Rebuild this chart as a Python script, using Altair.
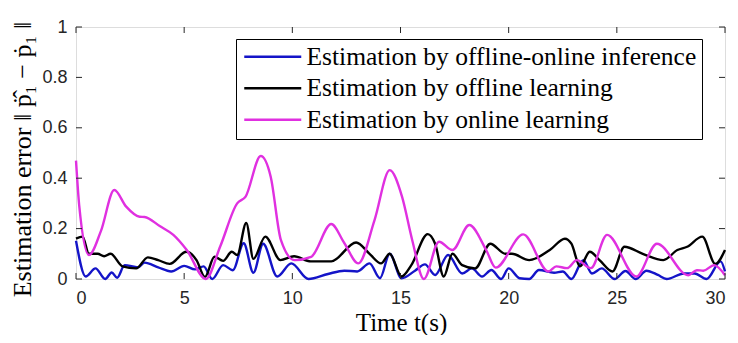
import altair as alt
import pandas as pd

# ---- data ----
series_names = [
    "Estimation by offline-online inference",
    "Estimation by offline learning",
    "Estimation by online learning",
]
series_colors = ["#1414c8", "#000000", "#e030e0"]

t_inf = [0, 0.45, 0.9, 1.35, 1.65, 1.9, 2.25, 2.87, 3.17, 3.8, 4.4, 5.0, 5.5, 5.9,
         6.3, 6.8, 7.25, 7.75, 8.2, 8.65, 9.3, 9.95, 10.75, 11.65, 12.4, 13.0, 13.57,
         14.05, 14.5, 15.05, 15.67, 16.13, 16.6, 17.2, 17.85, 18.3, 18.77, 19.2, 19.65,
         20.0, 20.5, 20.95, 21.4, 22.1, 22.5, 22.9, 23.45, 23.85, 24.3, 24.9, 25.4,
         25.87, 26.37, 26.9, 27.3, 28.1, 28.6, 29.15, 29.8, 30]
v_inf = [0.152, 0.01, 0.042, 0.0, 0.026, 0.005, 0.055, 0.046, 0.065, 0.046, 0.03,
         0.052, 0.038, 0.05, 0.0, 0.055, 0.035, 0.142, 0.025, 0.14, 0.01, 0.062, 0.0,
         0.02, 0.033, 0.03, 0.062, 0.003, 0.10, 0.003, 0.033, 0.058, 0.016, 0.095,
         0.022, 0.042, 0.01, 0.036, 0.0, 0.042, 0.003, 0.0, 0.036, 0.025, 0.03, 0.0,
         0.075, 0.022, 0.042, 0.0, 0.032, 0.0, 0.033, 0.016, 0.0, 0.022, 0.022, 0.0,
         0.07, 0.03]

t_off = [0, 0.3, 0.6, 1.0, 1.3, 1.6, 2.15, 2.78, 3.32, 3.8, 4.33, 5.1, 5.57, 5.96,
         6.4, 6.8, 7.2, 7.45, 7.87, 8.2, 8.75, 9.45, 10.08, 10.85, 11.8, 12.95, 13.57,
         14.1, 14.5, 15.05, 15.5, 16.26, 16.6, 17.0, 17.4, 17.85, 18.45, 19.15, 19.85,
         20.15, 20.95, 21.9, 22.6, 22.9, 23.3, 23.75, 24.2, 24.8, 25.35, 26.2, 27.15,
         27.8, 28.25, 28.95, 29.55, 30]
v_off = [0.16, 0.168, 0.10, 0.10, 0.09, 0.10, 0.05, 0.042, 0.086, 0.075, 0.06, 0.108,
         0.075, 0.008, 0.088, 0.072, 0.108, 0.095, 0.222, 0.08, 0.168, 0.075, 0.09,
         0.07, 0.07, 0.145, 0.10, 0.062, 0.10, 0.01, 0.055, 0.178, 0.14, 0.01, 0.10,
         0.055, 0.042, 0.14, 0.10, 0.10, 0.075, 0.115, 0.16, 0.14, 0.05, 0.108, 0.075,
         0.03, 0.128, 0.10, 0.075, 0.115, 0.128, 0.168, 0.06, 0.115]

t_onl = [0, 0.15, 0.6, 1.15, 1.77, 2.32, 2.94, 3.17, 3.87, 4.5, 5.12, 6.0, 6.67, 7.45,
         7.84, 8.54, 9.0, 9.47, 10.1, 10.87, 11.8, 12.4, 13.05, 13.8, 14.5, 15.07,
         15.54, 16.08, 16.78, 17.4, 18.18, 18.96, 19.4, 20.67, 21.84, 22.2, 22.7, 23.15,
         23.8, 24.55, 25.9, 26.85, 28.3, 28.7, 29.0, 29.5, 30]
v_onl = [0.47, 0.29, 0.095, 0.19, 0.353, 0.287, 0.247, 0.246, 0.21, 0.175, 0.115, 0.0,
         0.13, 0.30, 0.327, 0.488, 0.406, 0.155, 0.075, 0.088, 0.218, 0.143, 0.062,
         0.234, 0.432, 0.327, 0.155, 0.0, 0.148, 0.115, 0.214, 0.115, 0.045, 0.177,
         0.03, 0.05, 0.043, 0.075, 0.043, 0.175, 0.01, 0.14, 0.015, 0.035, 0.033, 0.055,
         0.015]

x_ticks = [0, 5, 10, 15, 20, 25, 30]
y_ticks = [0, 0.2, 0.4, 0.6, 0.8, 1]

# ---- build table ----
rows = []
for name, ts, vs in zip(series_names, [t_inf, t_off, t_onl], [v_inf, v_off, v_onl]):
    for t, v in zip(ts, vs):
        rows.append({"t": t, "v": v, "series": name})
df = pd.DataFrame(rows)

W, H = 649, 252
TICK = 6

xscale = alt.Scale(domain=[0, 30], nice=False, zero=False)
yscale = alt.Scale(domain=[0, 1], nice=False)

x_axis = alt.Axis(
    values=x_ticks, ticks=False, tickSize=0, domain=False, grid=False,
    labelFont="Liberation Sans", labelFontSize=18, labelColor="#262626",
    labelPadding=10, title="Time t(s)", titleFont="Liberation Serif",
    titleFontSize=25, titleFontWeight="normal", titleColor="#000000",
    titleX=325, titleY=51, titleBaseline="alphabetic", titleAlign="center",
)
y_axis = alt.Axis(
    values=y_ticks, ticks=False, tickSize=0, domain=False, grid=False, format="~g",
    labelFont="Liberation Sans", labelFontSize=18, labelColor="#262626",
    labelPadding=9,
    title="Estimation error \u2016 \u1E57\u0302\u2081 \u2212 \u1E57\u2081 \u2016",
    titleFont="Liberation Serif", titleFontSize=26, titleFontWeight="normal",
    titleColor="#000000", titleX=-46, titleY=132, titleAngle=270,
    titleBaseline="alphabetic", titleAlign="center",
)

lines = alt.Chart(df).mark_line(strokeWidth=2.4, interpolate="monotone").encode(
    x=alt.X("t:Q", scale=xscale, axis=x_axis),
    y=alt.Y("v:Q", scale=yscale, axis=y_axis),
    color=alt.Color(
        "series:N",
        scale=alt.Scale(domain=series_names, range=series_colors),
        sort=series_names,
        legend=alt.Legend(
            title=None, orient="none", legendX=160, legendY=12,
            strokeColor="#000000", fillColor="#ffffff", padding=5,
            labelFont="Liberation Serif", labelFontSize=25.5, labelColor="#000000",
            labelLimit=0, labelOffset=21, symbolType="M-3,0H3", symbolSize=361,
            symbolOffset=19, symbolStrokeWidth=2.4, rowPadding=4.5,
        ),
    ),
)

ydf = pd.DataFrame({"v": y_ticks})
xdf = pd.DataFrame({"t": x_ticks})

yt_left = alt.Chart(ydf).mark_rule(color="#262626", strokeWidth=1).encode(
    y=alt.Y("v:Q", scale=yscale), x=alt.value(0), x2=alt.value(TICK))
yt_right = alt.Chart(ydf).mark_rule(color="#262626", strokeWidth=1).encode(
    y=alt.Y("v:Q", scale=yscale), x=alt.value(W - TICK), x2=alt.value(W))
xt_bottom = alt.Chart(xdf).mark_rule(color="#262626", strokeWidth=1).encode(
    x=alt.X("t:Q", scale=xscale), y=alt.value(H), y2=alt.value(H - TICK))
xt_top = alt.Chart(xdf).mark_rule(color="#262626", strokeWidth=1).encode(
    x=alt.X("t:Q", scale=xscale), y=alt.value(0), y2=alt.value(TICK))

chart = alt.layer(lines, yt_left, yt_right, xt_bottom, xt_top).properties(
    width=W, height=H,
    autosize=alt.AutoSizeParams(type="none"),
    padding={"left": 68, "top": 19, "right": 5, "bottom": 56},
).configure_view(stroke="#262626", strokeWidth=1).configure(background="#ffffff")

chart.save("out.html", embed_options={"renderer": "svg", "actions": False})
